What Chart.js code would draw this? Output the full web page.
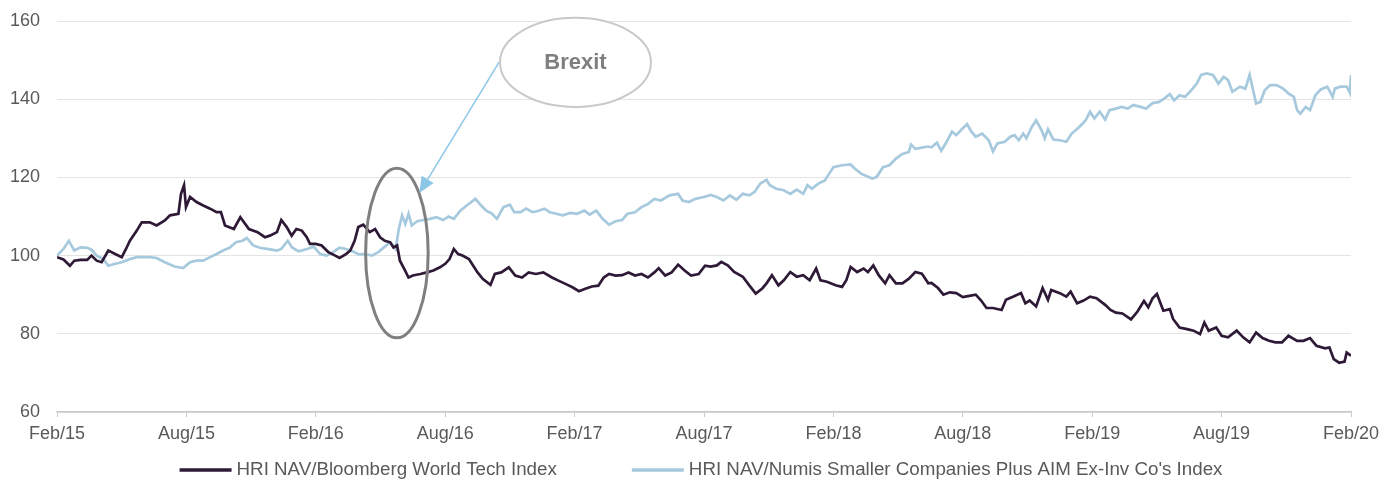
<!DOCTYPE html>
<html>
<head>
<meta charset="utf-8">
<script src="https://cdn.jsdelivr.net/npm/chart.js@4.4.1/dist/chart.umd.min.js"></script>
<style>
  html, body { margin: 0; padding: 0; background: #fff; overflow: hidden; }
  #wrap { width: 1381px; height: 479px; }
</style>
</head>
<body>
<div id="wrap"><canvas id="navChart"></canvas></div>
<script>
// x = months since Feb/15
const tickLabels = ['Feb/15', 'Aug/15', 'Feb/16', 'Aug/16', 'Feb/17', 'Aug/17', 'Feb/18', 'Aug/18', 'Feb/19', 'Aug/19', 'Feb/20'];

const techMonths = [
  0, 0.3, 0.6, 0.8, 1.1, 1.4, 1.6, 1.84, 2.07, 2.38, 2.7, 3, 3.2, 3.38, 3.7, 3.93, 4.3, 4.62, 5, 5.24,
  5.63, 5.75, 5.89, 5.98, 6.17, 6.47, 6.78, 7.1, 7.4, 7.6, 7.79, 8.2, 8.5, 8.9, 9.3, 9.64, 9.87, 10.2, 10.4, 10.65,
  10.88, 11.1, 11.35, 11.58, 11.73, 12, 12.27, 12.58, 12.9, 13.1, 13.4, 13.6, 13.8, 13.97, 14.2, 14.5, 14.75, 14.98, 15.2, 15.45,
  15.6, 15.77, 15.9, 16.1, 16.3, 16.5, 16.85, 17.15, 17.45, 17.76, 18, 18.2, 18.4, 18.6, 18.8, 19.1, 19.3, 19.5, 19.75, 20.1,
  20.3, 20.6, 20.95, 21.25, 21.56, 21.87, 22.2, 22.55, 22.95, 23.25, 23.6, 23.9, 24.2, 24.5, 24.8, 25.1, 25.35, 25.6, 25.9, 26.2,
  26.5, 26.8, 27.1, 27.4, 27.7, 27.9, 28.2, 28.5, 28.8, 29.1, 29.4, 29.75, 30.05, 30.3, 30.6, 30.8, 31.1, 31.4, 31.8, 32.1,
  32.4, 32.7, 32.9, 33.15, 33.45, 33.7, 34, 34.3, 34.6, 34.9, 35.2, 35.4, 35.7, 36.1, 36.4, 36.6, 36.8, 37.1, 37.4, 37.6,
  37.85, 38.1, 38.4, 38.6, 38.9, 39.2, 39.5, 39.8, 40.1, 40.4, 40.55, 40.85, 41.1, 41.4, 41.7, 42, 42.3, 42.6, 42.85, 43.1,
  43.4, 43.8, 44, 44.3, 44.7, 44.9, 45.1, 45.4, 45.7, 45.95, 46.1, 46.5, 46.8, 47, 47.3, 47.6, 47.9, 48.2, 48.6, 48.85,
  49.1, 49.4, 49.8, 50.1, 50.4, 50.6, 50.8, 51, 51.3, 51.6, 51.75, 52.05, 52.4, 52.7, 53, 53.2, 53.4, 53.75, 54, 54.3,
  54.7, 55, 55.3, 55.6, 55.9, 56.2, 56.5, 56.8, 57.1, 57.5, 57.8, 58.1, 58.4, 58.8, 59, 59.2, 59.45, 59.7, 59.8, 60
];
const techIndex = [
  99.6, 99, 97.4, 98.7, 98.9, 98.9, 100, 98.7, 98.3, 101.3, 100.4, 99.6, 101.7, 103.8, 106.4, 108.5, 108.5, 107.7, 109, 110.3,
  110.7, 115.8, 118, 112.4, 115, 113.7, 112.8, 112, 111.1, 111.1, 107.7, 106.8, 109.8, 106.8, 106, 104.7, 105.1, 106, 109.1, 107.3,
  105.1, 106.8, 106.4, 104.7, 103, 103, 102.6, 100.9, 100, 99.4, 100.4, 101.3, 103.8, 107.3, 107.9, 106, 106.8, 104.7, 103.8, 103.4,
  102.1, 102.6, 98.7, 96.6, 94.4, 94.9, 95.3, 95.7, 96.2, 97, 97.9, 99.1, 101.7, 100.4, 100, 99.1, 97.4, 95.7, 94, 92.5,
  95.3, 95.7, 97, 94.9, 94.4, 95.7, 95.3, 95.7, 94.4, 93.6, 92.7, 91.9, 90.9, 91.5, 92.1, 92.3, 94.4, 95.3, 94.9, 95,
  95.7, 94.9, 95.3, 94.4, 95.7, 96.8, 94.9, 95.7, 97.7, 96.2, 94.9, 95.3, 97.4, 97.2, 97.5, 98.4, 97.5, 95.8, 94.6, 92.4,
  90.3, 91.6, 92.9, 95, 92.4, 93.7, 95.8, 94.6, 95, 93.7, 96.7, 93.7, 93.3, 92.4, 92, 93.7, 97.1, 95.8, 96.7, 95.8,
  97.5, 95, 92.9, 95, 92.9, 92.9, 94.1, 95.8, 95.4, 92.9, 93, 91.7, 90, 90.6, 90.4, 89.4, 89.7, 90, 88.5, 86.6,
  86.6, 86.1, 88.7, 89.4, 90.4, 87.8, 88.5, 87, 91.7, 88.7, 91.2, 90.4, 89.5, 90.8, 87.8, 88.5, 89.5, 89.1, 87.4, 86.1,
  85.4, 85.2, 83.7, 85.7, 88.4, 86.8, 89.1, 90.2, 85.9, 86.3, 83.8, 81.6, 81.2, 80.8, 79.9, 82.9, 80.8, 81.6, 79.5, 79.1,
  80.8, 79.1, 77.8, 80.3, 78.9, 78.2, 77.8, 77.8, 79.5, 78.2, 78.2, 78.9, 76.9, 76.3, 76.5, 73.5, 72.6, 72.9, 75.2, 74.4
];

const smallMonths = [
  0, 0.3, 0.55, 0.8, 1.1, 1.4, 1.6, 1.84, 2.15, 2.38, 2.7, 3, 3.38, 3.7, 4.3, 4.62, 5, 5.45, 5.85, 6.17,
  6.47, 6.78, 7.1, 7.4, 7.7, 8, 8.3, 8.6, 8.8, 9.1, 9.4, 9.87, 10.2, 10.4, 10.7, 10.9, 11.2, 11.6, 11.9, 12.2,
  12.5, 12.8, 13.1, 13.4, 13.7, 14, 14.3, 14.6, 14.9, 15.2, 15.45, 15.7, 15.85, 16, 16.15, 16.3, 16.45, 16.7, 17, 17.3,
  17.6, 17.9, 18.15, 18.4, 18.7, 19, 19.4, 19.6, 19.9, 20.15, 20.4, 20.7, 21, 21.2, 21.5, 21.75, 22.05, 22.3, 22.6, 22.85,
  23.15, 23.45, 23.8, 24.1, 24.45, 24.7, 25, 25.3, 25.6, 25.9, 26.2, 26.45, 26.8, 27.1, 27.4, 27.7, 28, 28.4, 28.8, 29,
  29.3, 29.6, 30, 30.3, 30.6, 30.9, 31.2, 31.5, 31.8, 32.1, 32.35, 32.6, 32.9, 33.05, 33.35, 33.7, 34, 34.3, 34.6, 34.8,
  35, 35.3, 35.6, 35.8, 36, 36.4, 36.8, 37, 37.3, 37.8, 38, 38.3, 38.6, 38.9, 39.2, 39.5, 39.6, 39.8, 40.1, 40.4,
  40.55, 40.8, 41, 41.25, 41.5, 41.7, 41.95, 42.2, 42.4, 42.6, 42.9, 43.2, 43.4, 43.6, 43.95, 44.2, 44.4, 44.6, 44.8, 44.95,
  45.2, 45.4, 45.65, 45.8, 45.95, 46.2, 46.5, 46.8, 47.05, 47.4, 47.7, 47.9, 48.1, 48.35, 48.6, 48.8, 49.1, 49.35, 49.65, 49.9,
  50.2, 50.5, 50.8, 51.1, 51.35, 51.6, 51.8, 52.05, 52.3, 52.6, 52.85, 53.05, 53.3, 53.6, 53.85, 54.1, 54.3, 54.5, 54.85, 55.1,
  55.3, 55.6, 55.8, 56, 56.25, 56.55, 56.85, 57.1, 57.35, 57.5, 57.65, 57.9, 58.1, 58.35, 58.6, 58.9, 59.15, 59.25, 59.5, 59.8,
  59.95, 60
];
const smallerCos = [
  100, 101.7, 103.8, 101.3, 102.1, 102, 101.5, 100, 99.1, 97.4, 97.9, 98.3, 99.1, 99.6, 99.6, 99.4, 98.3, 97.2, 96.8, 98.3,
  98.7, 98.7, 99.6, 100.4, 101.3, 102, 103.4, 103.8, 104.5, 102.6, 102, 101.6, 101.3, 101.7, 103.8, 102.1, 101.1, 101.7, 102.3, 100.4,
  100, 100.9, 102, 101.7, 101.1, 100.3, 100.4, 100, 100.9, 102.3, 103.4, 101.7, 106.8, 110.3, 108.1, 110.7, 107.7, 108.8, 109.1, 109.4,
  109.8, 109.1, 110, 109.4, 111.5, 112.8, 114.5, 113.2, 111.5, 110.8, 109.4, 112.4, 113, 111.1, 111.1, 112, 111.1, 111.4, 112, 111.1,
  110.7, 110.3, 110.9, 110.7, 111.5, 110.5, 111.5, 109.4, 107.9, 108.8, 109.1, 110.7, 111.1, 112.4, 113.2, 114.5, 114.1, 115.4, 115.8, 114.1,
  113.7, 114.5, 115, 115.5, 115, 114.1, 115.4, 114.3, 115.8, 115.4, 116.3, 118.4, 119.4, 118, 117.1, 116.7, 115.8, 116.9, 115.8, 118,
  117.1, 118.4, 119.2, 120.9, 122.6, 123.1, 123.3, 122.2, 120.9, 119.7, 120.1, 122.6, 123.1, 124.8, 126, 126.5, 128.4, 127.3, 127.6, 127.9,
  127.7, 128.9, 126.8, 129.1, 131.7, 130.8, 132.3, 133.6, 131.7, 130.4, 131.2, 129.5, 126.6, 128.7, 129.1, 130.4, 130.8, 129.5, 131.2, 130,
  132.9, 134.6, 132.1, 130, 132.3, 129.7, 129.5, 129.1, 131.2, 132.9, 134.6, 136.8, 135.1, 136.8, 134.8, 137.2, 137.6, 138, 137.6, 138.5,
  138.1, 137.6, 139, 139.3, 140.2, 141.3, 139.7, 141, 140.6, 142.3, 144, 146.2, 146.6, 146.2, 144, 145.7, 144.9, 141.9, 143.2, 142.7,
  146.2, 138.9, 139.3, 142.3, 143.6, 143.6, 142.7, 141.5, 140.6, 137.2, 136.3, 138, 137.2, 141, 142.5, 143.2, 140.6, 142.7, 143.2, 143.2,
  141.6, 146.2
];

const seriesNames = ['HRI NAV/Bloomberg World Tech Index', "HRI NAV/Numis Smaller Companies Plus AIM Ex-Inv Co's Index"];
const seriesColors = ['#2e1a36', '#a6c9de'];

// annotation shapes, in axis units (months, index value)
const brexitRing = { x: 15.76, y: 100.66, rx: 1.45, ry: 21.7 };
const calloutBubble = { x: 24.04, y: 149.4, rx: 3.5, ry: 11.4, text: 'Brexit' };
const calloutArrow = { fromX: 20.5, fromY: 149.5, toX: 16.8, toY: 116 };

const fontFamily = "'Liberation Sans', Arial, sans-serif";

const toPoints = (xs, ys) => xs.map((m, i) => ({ x: m, y: ys[i] }));

const annotations = {
  id: 'annotations',
  afterDatasetsDraw(chart) {
    const { ctx, scales: { x, y } } = chart;
    const ellipse = (e) => {
      const cx = x.getPixelForValue(e.x), cy = y.getPixelForValue(e.y);
      const rx = x.getPixelForValue(e.x + e.rx) - cx;
      const ry = cy - y.getPixelForValue(e.y + e.ry);
      ctx.beginPath();
      ctx.ellipse(cx, cy, rx, ry, 0, 0, Math.PI * 2);
      return [cx, cy];
    };
    ctx.save();
    // ring round the referendum drop
    ellipse(brexitRing);
    ctx.lineWidth = 3;
    ctx.strokeStyle = '#7f7f7f';
    ctx.stroke();

    // arrow
    const x0 = x.getPixelForValue(calloutArrow.fromX), y0 = y.getPixelForValue(calloutArrow.fromY);
    const x1 = x.getPixelForValue(calloutArrow.toX), y1 = y.getPixelForValue(calloutArrow.toY);
    const ang = Math.atan2(y1 - y0, x1 - x0);
    const headLen = 16, headW = 7;
    const bx = x1 - headLen * Math.cos(ang), by = y1 - headLen * Math.sin(ang);
    ctx.strokeStyle = '#8cc6e7';
    ctx.fillStyle = '#8cc6e7';
    ctx.lineWidth = 1.5;
    ctx.beginPath();
    ctx.moveTo(x0, y0);
    ctx.lineTo(bx, by);
    ctx.stroke();
    ctx.beginPath();
    ctx.moveTo(x1, y1);
    ctx.lineTo(bx + headW * Math.sin(ang), by - headW * Math.cos(ang));
    ctx.lineTo(bx - headW * Math.sin(ang), by + headW * Math.cos(ang));
    ctx.closePath();
    ctx.fill();

    // callout bubble
    const [cx, cy] = ellipse(calloutBubble);
    ctx.fillStyle = '#ffffff';
    ctx.fill();
    ctx.lineWidth = 2;
    ctx.strokeStyle = '#c9c9c9';
    ctx.stroke();
    ctx.fillStyle = '#7f7f7f';
    ctx.font = 'bold 22px ' + fontFamily;
    ctx.textAlign = 'center';
    ctx.textBaseline = 'middle';
    ctx.fillText(calloutBubble.text, cx, cy);
    ctx.restore();
  }
};

// legend along the bottom edge
const bottomLegend = {
  id: 'bottomLegend',
  afterDraw(chart) {
    const { ctx, chartArea } = chart;
    const lineLen = 52, textGap = 5, itemGap = 75, yMid = 470;
    ctx.save();
    ctx.font = '18.75px ' + fontFamily;
    const widths = chart.data.datasets.map(d => ctx.measureText(d.label).width);
    const total = widths.reduce((s, w) => s + lineLen + textGap + w, 0) + itemGap * (widths.length - 1);
    let left = (chartArea.left + chartArea.right) / 2 - total / 2 - 3;
    chart.data.datasets.forEach((d, i) => {
      ctx.strokeStyle = d.borderColor;
      ctx.lineWidth = 3.5;
      ctx.beginPath();
      ctx.moveTo(left, yMid);
      ctx.lineTo(left + lineLen, yMid);
      ctx.stroke();
      ctx.fillStyle = '#595959';
      ctx.textAlign = 'left';
      ctx.textBaseline = 'middle';
      ctx.fillText(d.label, left + lineLen + textGap, yMid);
      left += lineLen + textGap + widths[i] + itemGap;
    });
    ctx.restore();
  }
};

new Chart(document.getElementById('navChart'), {
  type: 'line',
  data: {
    datasets: [
      { label: seriesNames[0], data: toPoints(techMonths, techIndex), borderColor: seriesColors[0], backgroundColor: seriesColors[0], borderWidth: 2.7 },
      { label: seriesNames[1], data: toPoints(smallMonths, smallerCos), borderColor: seriesColors[1], backgroundColor: seriesColors[1], borderWidth: 2.7 }
    ]
  },
  options: {
    responsive: true,
    maintainAspectRatio: false,
    animation: false,
    layout: { padding: { left: 10, right: 30, top: 21, bottom: 34 } },
    elements: { point: { radius: 0 }, line: { tension: 0 } },
    plugins: { legend: { display: false }, tooltip: { enabled: false } },
    scales: {
      x: {
        type: 'linear',
        min: 0,
        max: 60,
        ticks: {
          stepSize: 6,
          color: '#595959',
          font: { family: fontFamily, size: 18 },
          padding: 6,
          maxRotation: 0,
          callback: (v) => tickLabels[v / 6]
        },
        grid: { drawOnChartArea: false, tickLength: 5, tickColor: '#c8c8c8' },
        border: { color: '#c8c8c8', width: 1.5 },
        afterFit: (scale) => { scale.height = 33; scale.paddingLeft = 0; scale.paddingRight = 0; }
      },
      y: {
        min: 60,
        max: 160,
        ticks: {
          stepSize: 20,
          color: '#595959',
          font: { family: fontFamily, size: 18 },
          padding: 17
        },
        grid: { color: '#e4e4e4', drawTicks: false },
        border: { display: false },
        afterFit: (scale) => { scale.width = 47; scale.paddingTop = 0; scale.paddingBottom = 0; }
      }
    }
  },
  plugins: [annotations, bottomLegend]
});
</script>
</body>
</html>
